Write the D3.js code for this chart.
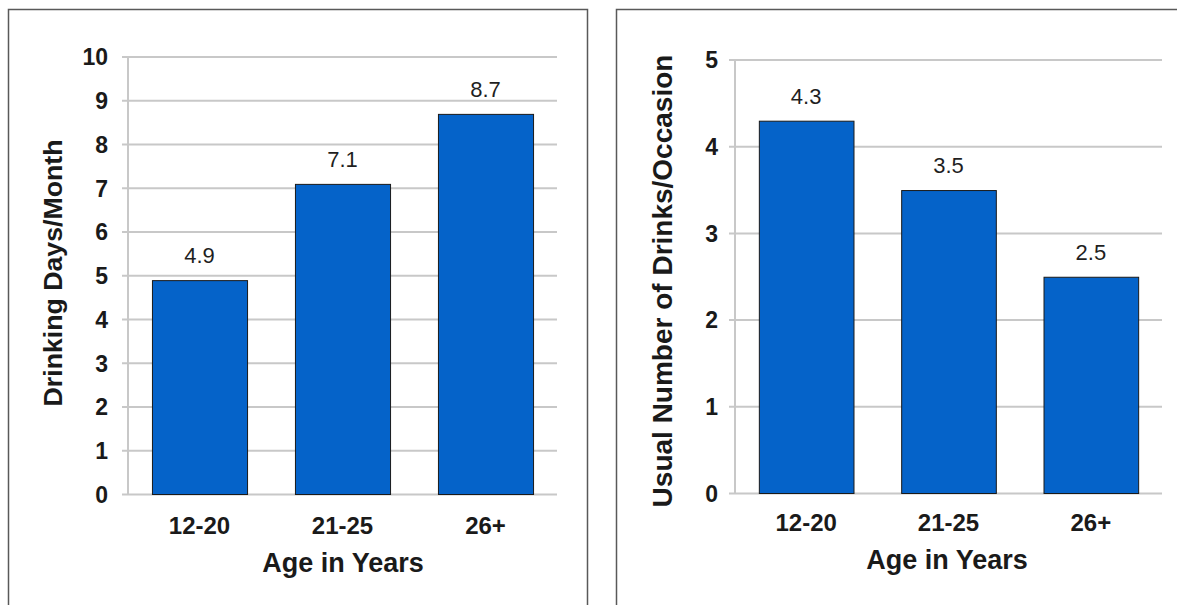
<!DOCTYPE html>
<html>
<head>
<meta charset="utf-8">
<script src="https://cdn.jsdelivr.net/npm/d3@7/dist/d3.min.js"></script>
<style>
  html, body { margin: 0; padding: 0; background: #fff; }
  svg { display: block; font-family: "Liberation Sans", Arial, sans-serif; }
</style>
</head>
<body>
<svg id="chart" width="1177" height="605"></svg>
<script>
// Age groups shared by both charts
const ageGroups = ["12-20", "21-25", "26+"];

// Average drinking days per month by age group
const drinkingDays = [4.9, 7.1, 8.7];
const drinkingDaysTicks = [0, 1, 2, 3, 4, 5, 6, 7, 8, 9, 10];

// Usual number of drinks per drinking occasion by age group
const drinksPerOccasion = [4.3, 3.5, 2.5];
const drinksPerOccasionTicks = [0, 1, 2, 3, 4, 5];

const xTitle = "Age in Years";
const leftTitle = "Drinking Days/Month";
const rightTitle = "Usual Number of Drinks/Occasion";

const svg = d3.select("#chart");
const barFill = "#0563c9";
const gridColor = "#c8c8c8";

// Panel frames
svg.append("path")
  .attr("d", "M8.5,605 V9.5 H587.5 V605")
  .attr("fill", "none").attr("stroke", "#595959").attr("stroke-width", 1.5);
svg.append("path")
  .attr("d", "M616.5,605 V9.5 H1177")
  .attr("fill", "none").attr("stroke", "#595959").attr("stroke-width", 1.5);

function drawPanel(cfg) {
  const g = svg.append("g");
  const x = d3.scaleBand().domain(ageGroups)
    .range([cfg.left, cfg.right]).paddingInner(0.335).paddingOuter(0.1675);
  const y = d3.scaleLinear().domain([0, cfg.max]).range([cfg.bottom, cfg.top]);

  // Horizontal gridlines with short outward ticks
  g.selectAll("line.grid").data(cfg.ticks).join("line")
    .attr("class", "grid")
    .attr("x1", cfg.left - 6).attr("x2", cfg.right)
    .attr("y1", d => y(d)).attr("y2", d => y(d))
    .attr("stroke", gridColor).attr("stroke-width", 2);

  // Vertical axis line
  g.append("line")
    .attr("x1", cfg.left).attr("x2", cfg.left)
    .attr("y1", y(cfg.max)).attr("y2", y(0))
    .attr("stroke", gridColor).attr("stroke-width", 2);

  // Y tick labels
  g.selectAll("text.ytick").data(cfg.ticks).join("text")
    .attr("class", "ytick")
    .attr("x", cfg.left - cfg.tickGap).attr("y", d => y(d))
    .attr("dy", "0.36em")
    .attr("text-anchor", "end")
    .attr("font-size", 23).attr("font-weight", "bold").attr("fill", "#1a1a1a")
    .text(d => d);

  // Bars
  g.selectAll("rect.bar").data(cfg.values).join("rect")
    .attr("class", "bar")
    .attr("x", (d, i) => x(ageGroups[i]) + 0.5)
    .attr("width", x.bandwidth())
    .attr("y", d => y(d) + 0.5)
    .attr("height", d => y(0) - y(d) - 0.5)
    .attr("fill", barFill).attr("stroke", "#1a1a1a").attr("stroke-width", 1);

  // Value labels
  g.selectAll("text.value").data(cfg.values).join("text")
    .attr("class", "value")
    .attr("x", (d, i) => x(ageGroups[i]) + x.bandwidth() / 2)
    .attr("y", d => y(d) - 17)
    .attr("text-anchor", "middle")
    .attr("font-size", 22).attr("fill", "#1f1f1f")
    .text(d => d.toFixed(1));

  // Category labels
  g.selectAll("text.xtick").data(ageGroups).join("text")
    .attr("class", "xtick")
    .attr("x", d => x(d) + x.bandwidth() / 2)
    .attr("y", cfg.xTickBase)
    .attr("text-anchor", "middle")
    .attr("font-size", 24).attr("font-weight", "bold").attr("fill", "#1a1a1a")
    .text(d => d);

  // Axis titles
  g.append("text")
    .attr("x", cfg.xTitleX).attr("y", cfg.xTitleBase)
    .attr("text-anchor", "middle")
    .attr("font-size", 27).attr("font-weight", "bold").attr("fill", "#1a1a1a")
    .text(xTitle);

  g.append("text")
    .attr("transform", `translate(${cfg.yTitleX},${cfg.yTitleY}) rotate(-90)`)
    .attr("text-anchor", "middle")
    .attr("font-size", cfg.yTitleSize).attr("font-weight", "bold").attr("fill", "#1a1a1a")
    .text(cfg.yTitle);
}

drawPanel({
  left: 128, right: 557, top: 57, bottom: 494.5, max: 10,
  ticks: drinkingDaysTicks, values: drinkingDays, tickGap: 20,
  xTickBase: 534, xTitleX: 343, xTitleBase: 572,
  yTitle: leftTitle, yTitleX: 62, yTitleY: 273, yTitleSize: 26.7
});

drawPanel({
  left: 735, right: 1162, top: 60, bottom: 493.5, max: 5,
  ticks: drinksPerOccasionTicks, values: drinksPerOccasion, tickGap: 17,
  xTickBase: 531, xTitleX: 947, xTitleBase: 569,
  yTitle: rightTitle, yTitleX: 672, yTitleY: 281, yTitleSize: 28
});
</script>
</body>
</html>
